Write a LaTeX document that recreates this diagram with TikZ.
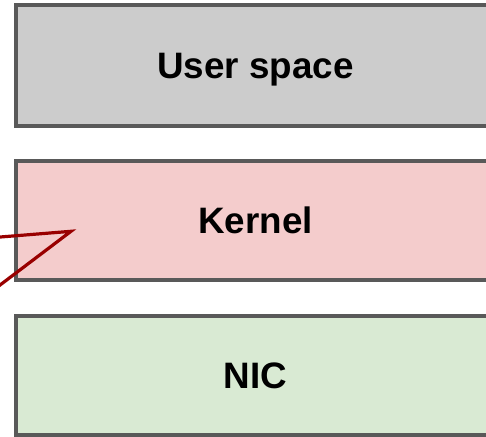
\documentclass[tikz,border=0pt]{standalone}
\usepackage{fontspec}
\setmainfont{Liberation Sans}
\definecolor{edge}{HTML}{595959}
\definecolor{userfill}{HTML}{CCCCCC}
\definecolor{kernfill}{HTML}{F4CCCC}
\definecolor{nicfill}{HTML}{D9EAD3}
\definecolor{pointer}{HTML}{990000}
\begin{document}
\begin{tikzpicture}[x=1pt,y=-1pt,
  layer/.style={draw=edge, line width=4pt, rectangle, inner sep=0pt,
    minimum width=480pt, text height=25.8pt, text depth=0pt,
    font=\fontsize{36.8}{40}\selectfont\bfseries},
  callout/.style={draw=pointer, line width=3.2pt, line join=miter}]
  \useasboundingbox (0,0) rectangle (486,436);
  % stacked layers, running off the right edge
  \node[layer, fill=userfill, minimum height=120.5pt] (user) at (255.5,65.5) {User space};
  \node[layer, fill=kernfill, minimum height=118.5pt] (kernel) at (255.5,220.5) {Kernel};
  \node[layer, fill=nicfill, minimum height=118.5pt] (nic) at (255.5,375.5) {NIC};
  % callout wedge pointing into the kernel box
  \coordinate (tipin) at (71,231.3);
  \coordinate (upper) at (-6,237.5);
  \coordinate (lower) at (-6,289.6);
  \draw[callout] (upper) -- (tipin) -- (lower);
\end{tikzpicture}
\end{document}
